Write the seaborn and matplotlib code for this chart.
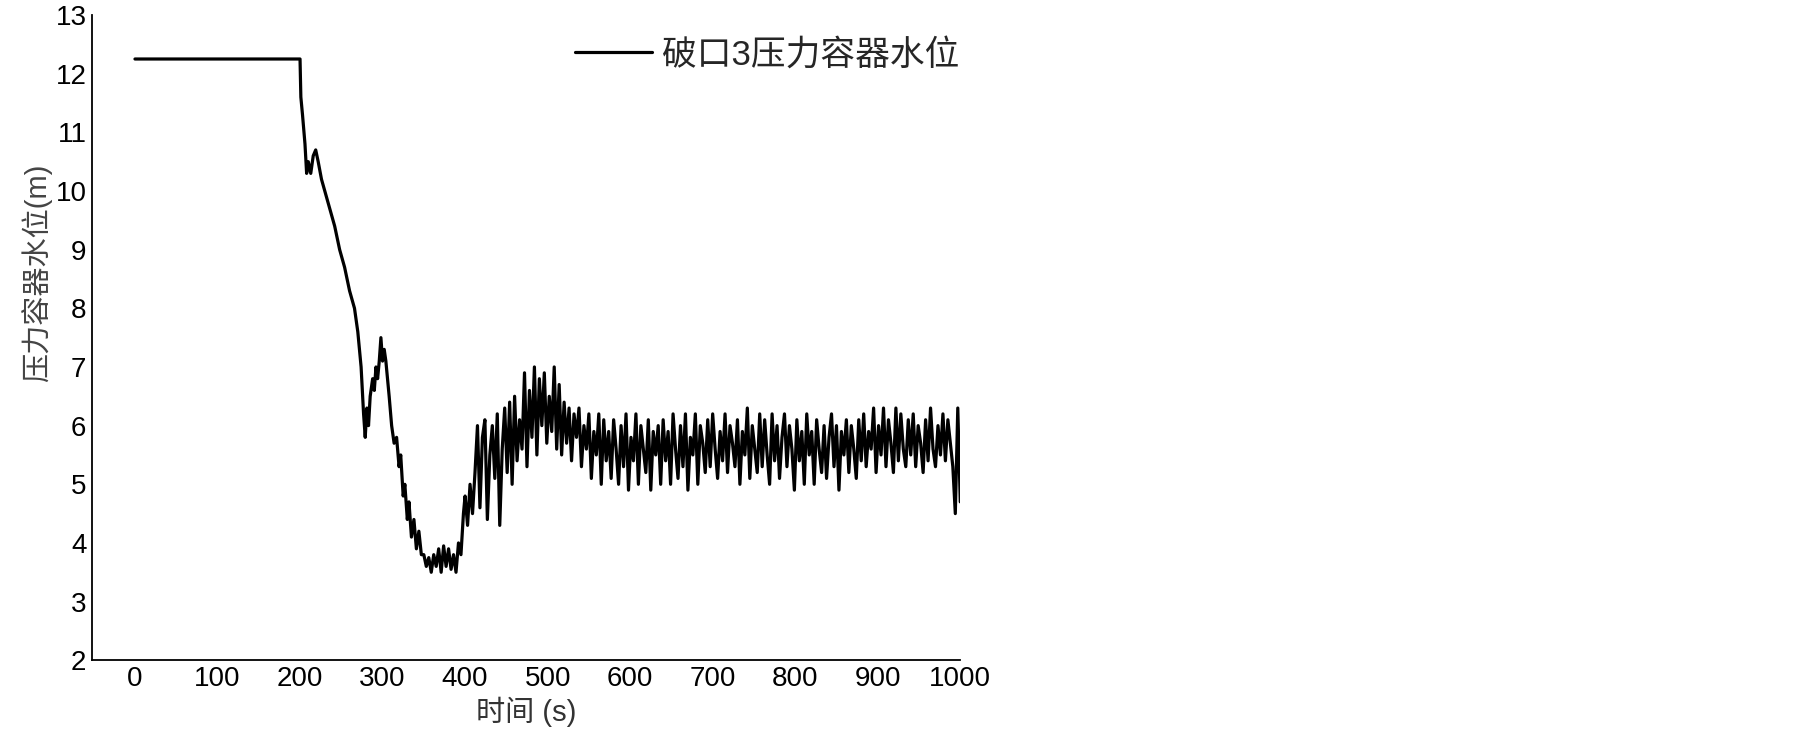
import matplotlib
matplotlib.use("Agg")
import matplotlib.pyplot as plt
import seaborn as sns
import pandas as pd

sns.set_style("white")
plt.rcParams['font.family'] = ['Liberation Sans', 'Noto Sans CJK SC', 'DejaVu Sans']
plt.rcParams['axes.unicode_minus'] = False

# early transient: steady level, break at 200 s, drop and refill
t_early = [0, 200, 201, 203, 206, 208, 210, 213, 216, 219, 222, 226, 230, 236, 242,
           248, 254, 260, 266, 270, 274, 277, 279, 281, 283, 285, 288, 290, 292, 294,
           296, 298, 300, 302, 304, 306, 308, 311, 314, 317, 320, 322, 325, 327, 330,
           332, 335, 338, 341, 344, 347, 350, 353, 356, 359, 362, 365, 368, 371, 374,
           377, 380, 383, 386, 389, 392, 395, 398]
lvl_early = [12.25, 12.25, 11.6, 11.3, 10.8, 10.3, 10.5, 10.3, 10.6, 10.7, 10.5, 10.2, 10.0, 9.7, 9.4,
             9.0, 8.7, 8.3, 8.0, 7.6, 7.0, 6.2, 5.8, 6.3, 6.0, 6.5, 6.8, 6.6, 7.0, 6.8,
             7.1, 7.5, 7.1, 7.3, 7.1, 6.8, 6.5, 6.0, 5.7, 5.8, 5.3, 5.5, 4.8, 5.0, 4.4,
             4.7, 4.1, 4.4, 3.9, 4.2, 3.8, 3.8, 3.6, 3.75, 3.5, 3.8, 3.6, 3.9, 3.5, 3.95,
             3.6, 3.9, 3.55, 3.8, 3.5, 4.0, 3.8, 4.5]

# oscillating part, 400-997 s read every 3 s, then the last point at 1000 s
t_osc = list(range(400, 1000, 3)) + [1000]
lvl_osc = [
    4.8, 4.3, 5.0, 4.5, 5.2, 6.0, 4.6, 5.8, 6.1, 4.4, 5.5, 6.0, 5.1, 6.2, 4.3, 5.6, 6.3, 5.2, 6.4, 5.0,
    6.5, 5.4, 6.1, 5.6, 6.9, 5.3, 6.6, 5.8, 7.0, 5.5, 6.8, 6.0, 6.9, 5.7, 6.5, 5.9, 7.0, 5.6, 6.7, 5.5,
    6.4, 5.7, 6.3, 5.4, 6.2, 5.8, 6.3, 5.3, 6.0, 5.6, 6.2, 5.1, 5.9, 5.5, 6.2, 5.0, 6.1, 5.4, 5.9, 5.1,
    6.1, 5.6, 5.0, 6.0, 5.3, 6.2, 4.9, 5.8, 5.4, 6.2, 5.0, 6.0, 5.6, 5.2, 6.1, 4.9, 5.9, 5.5, 6.0, 5.0,
    6.1, 5.4, 5.9, 5.0, 6.2, 5.6, 5.1, 6.0, 5.3, 6.2, 4.9, 5.8, 5.5, 6.2, 5.0, 6.0, 5.7, 5.2, 6.1, 5.3,
    6.2, 5.6, 5.1, 5.9, 5.4, 6.2, 5.2, 6.0, 5.7, 5.3, 6.1, 5.0, 5.9, 5.5, 6.3, 5.1, 6.0, 5.6, 5.2, 6.2,
    5.3, 6.1, 5.5, 5.0, 6.2, 5.4, 6.0, 5.1, 5.8, 6.2, 5.3, 6.0, 5.6, 4.9, 6.1, 5.4, 5.9, 5.0, 6.2, 5.5,
    5.9, 5.0, 6.1, 5.6, 5.2, 6.0, 5.1, 5.8, 6.2, 5.3, 6.0, 4.9, 5.9, 5.5, 6.1, 5.2, 6.0, 5.6, 5.1, 6.1,
    5.4, 6.2, 5.3, 5.9, 5.6, 6.3, 5.2, 6.0, 5.5, 6.3, 5.3, 6.1, 5.7, 5.2, 6.3, 5.4, 6.2, 5.6, 5.3, 6.1,
    5.5, 6.2, 5.3, 6.0, 5.7, 5.2, 6.1, 5.4, 6.3, 5.6, 5.3, 6.0, 5.5, 6.2, 5.4, 6.1, 5.7, 5.3, 4.5, 6.3,
    4.7]

df = pd.DataFrame({"t": t_early + t_osc, "level": lvl_early + lvl_osc})

fig = plt.figure(figsize=(18.05, 7.32), dpi=100)
ax = fig.add_axes([0.051, 0.098, 0.481, 0.8815])

sns.lineplot(data=df, x="t", y="level", color="black", linewidth=2.3,
             label="破口3压力容器水位", ax=ax, sort=True, estimator=None)

ax.set_xlim(-52, 1000)
ax.set_ylim(2, 13)
ax.set_xticks(range(0, 1001, 100))
ax.set_yticks(range(2, 14))
ax.tick_params(length=0, labelsize=20, pad=4, colors="black")
for s in ["top", "right"]:
    ax.spines[s].set_visible(False)
for s in ["left", "bottom"]:
    ax.spines[s].set_color("black")
    ax.spines[s].set_linewidth(1.3)

ax.set_xlabel("时间 (s)", fontsize=21, color="#333333")
ax.set_ylabel("压力容器水位(m)", fontsize=21, color="#444444")
ax.xaxis.set_label_coords(0.5, -0.056)
ax.yaxis.set_label_coords(-0.046, 0.6)

ax.legend(loc="upper right", bbox_to_anchor=(1.015, 0.985), frameon=False,
          fontsize=25, handlelength=2.2, handletextpad=0.3, borderaxespad=0.0)

fig.savefig("out.png", dpi=100)
